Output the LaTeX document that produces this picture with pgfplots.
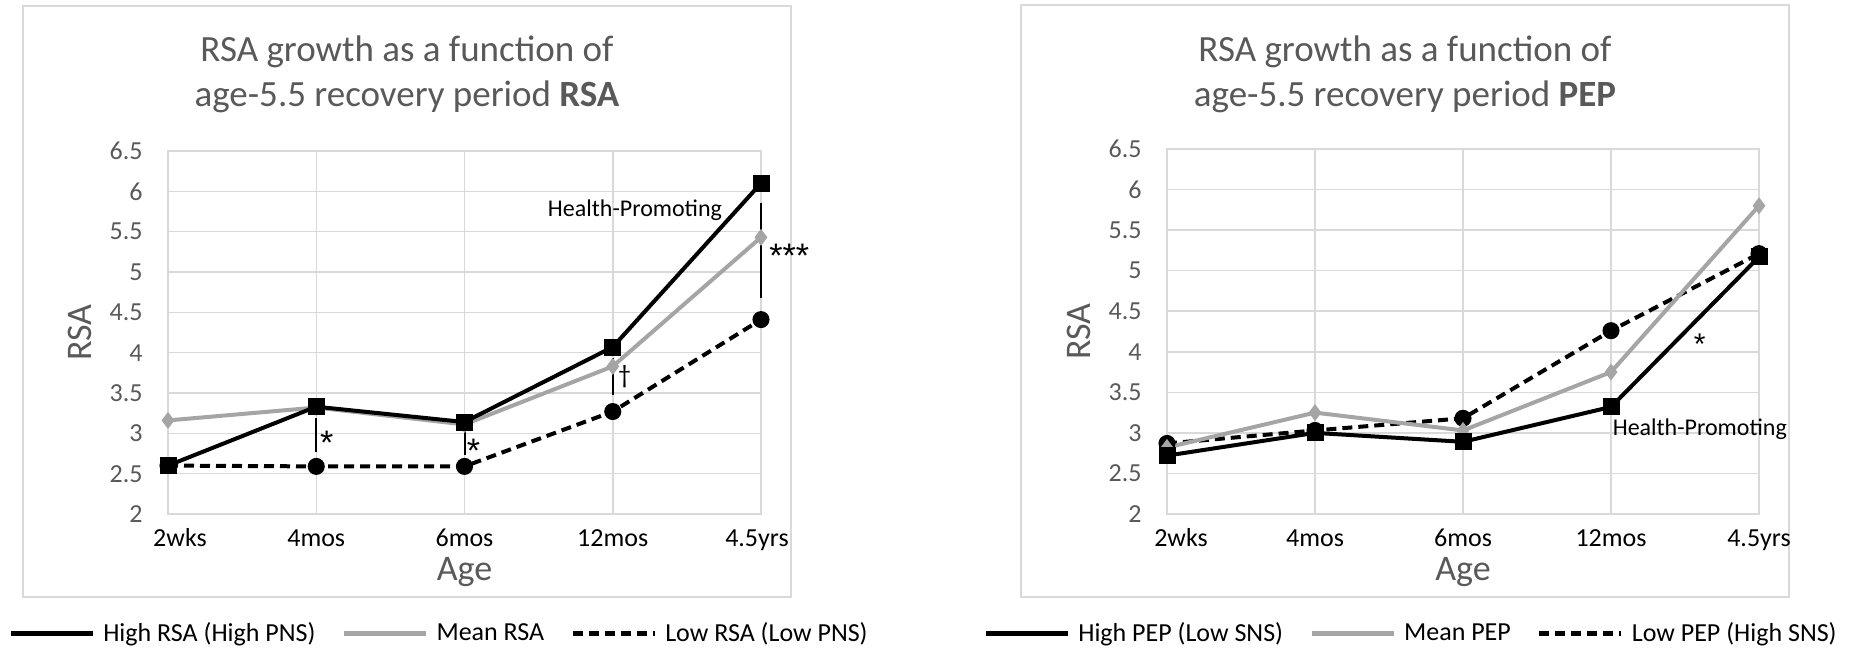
\documentclass[border=0pt]{standalone}
\usepackage{fontspec}
\setmainfont{Carlito}
\newfontfamily\starfont{Liberation Sans}
\usepackage{pgfplots}
\pgfplotsset{compat=1.18}
\definecolor{txtgray}{HTML}{595959}
\definecolor{gridgray}{HTML}{D9D9D9}
\definecolor{linegray}{HTML}{A5A5A5}

\pgfplotsset{
 rsabase/.style={
  scale only axis, width=296.5pt, height=181.5pt,
  xmin=0, xmax=4, ymin=2, ymax=6.5,
  xtick={0,1,2,3,4}, ytick={2,2.5,...,6.5},
  grid=major, major grid style={gridgray, line width=0.75pt},
  axis line style={gridgray, line width=0.75pt},
  major tick length=0pt, tick style={draw=none},
  /pgf/number format/assume math mode=true,
  yticklabel style={font=\fontsize{13pt}{15pt}\selectfont, text=txtgray, anchor=east, inner sep=0pt, xshift=-12.5pt},
  xticklabel style={font=\fontsize{13pt}{15pt}\selectfont, text=black, anchor=base, inner sep=0pt, yshift=-16pt},
  xlabel=Age, ylabel=RSA,
  label style={font=\fontsize{18pt}{20pt}\selectfont, text=txtgray},
  xlabel style={at={(axis description cs:0.5,-0.16)}, anchor=center},
  ylabel style={at={(axis description cs:-0.148,0.5)}, anchor=center},
  clip=false,
  legend columns=3,
  legend style={draw=none, fill=none, inner sep=0pt, font=\fontsize{13pt}{15pt}\selectfont,
    nodes={inner sep=0pt},
    /tikz/every odd column/.append style={column sep=4pt},
    /tikz/every even column/.append style={column sep=13pt}},
  legend image code/.code={\draw[#1, mark=none, line width=2.5pt] (0pt,0pt) -- (41pt,0pt);},
 },
 hiline/.style={black, line width=2pt, mark=square*, mark size=3.25pt, mark options={solid}},
 meanline/.style={linegray, line width=2pt, mark=diamond*, mark size=2.6pt, mark options={solid}},
 lowline/.style={black, line width=2pt, dash pattern=on 5pt off 3pt, mark=*, mark size=3.25pt, mark options={solid}},
 sigline/.style={black, line width=1pt, mark=none, forget plot},
}

\begin{document}
\begin{tikzpicture}
% chart frames
\draw[gridgray, line width=0.75pt] (11.5pt,25.5pt) rectangle (395.5pt,321pt);
\draw[gridgray, line width=0.75pt] (510.5pt,25.5pt) rectangle (894.5pt,321.5pt);

% titles
\node[anchor=base, text=txtgray, font=\fontsize{18.5pt}{22pt}\selectfont] at (203.5pt,293pt) {RSA growth as a function of};
\node[anchor=base, text=txtgray, font=\fontsize{18.5pt}{22pt}\selectfont] at (203.5pt,270.5pt) {age-5.5 recovery period \textbf{RSA}};
\node[anchor=base, text=txtgray, font=\fontsize{18.5pt}{22pt}\selectfont] at (702.5pt,293pt) {RSA growth as a function of};
\node[anchor=base, text=txtgray, font=\fontsize{18.5pt}{22pt}\selectfont] at (702.5pt,270.5pt) {age-5.5 recovery period \textbf{PEP}};

% ---------- left chart ----------
\begin{axis}[rsabase, at={(84pt,67pt)}, anchor=south west,
  xticklabels={\hspace*{12pt}2wks, 4mos, 6mos, 12mos, 4.5yrs\hspace*{4pt}},
  legend style={at={(-0.27,-0.328)}, anchor=west}]
\addlegendimage{hiline}\addlegendentry{High RSA (High PNS)}
\addlegendimage{meanline}\addlegendentry{Mean RSA}
\addlegendimage{lowline}\addlegendentry{Low RSA (Low PNS)}
\addplot[meanline, forget plot] coordinates {(0,3.16) (1,3.32) (2,3.11) (3,3.83) (4,5.43)};
\addplot[lowline, forget plot] coordinates {(0,2.60) (1,2.59) (2,2.59) (3,3.27) (4,4.41)};
\addplot[hiline, forget plot] coordinates {(0,2.60) (1,3.33) (2,3.14) (3,4.07) (4,6.10)};
\addplot[sigline] coordinates {(1,3.19) (1,2.77)};
\addplot[sigline] coordinates {(2,3.04) (2,2.73)};
\addplot[sigline] coordinates {(3,3.93) (3,3.48)};
\addplot[sigline] coordinates {(4,5.86) (4,4.68)};
\node[font=\starfont\fontsize{17pt}{19pt}\selectfont, yshift=-3pt] at (axis cs:1.07,2.96) {*};
\node[font=\starfont\fontsize{17pt}{19pt}\selectfont, yshift=-3pt] at (axis cs:2.06,2.86) {*};
\node[font=\fontsize{13pt}{15pt}\selectfont] at (axis cs:3.08,3.70) {†};
\node[font=\starfont\fontsize{17pt}{19pt}\selectfont, yshift=-3pt] at (axis cs:4.19,5.27) {***};
\node[font=\fontsize{12pt}{14pt}\selectfont] at (axis cs:3.15,5.76) {Health-Promoting};
\end{axis}

% ---------- right chart ----------
\begin{axis}[rsabase, at={(583.5pt,67pt)}, anchor=south west, width=296pt, height=182.5pt,
  xticklabels={\hspace*{14pt}2wks, 4mos, 6mos, 12mos, 4.5yrs},
  legend style={at={(-0.311,-0.328)}, anchor=west}]
\addlegendimage{hiline}\addlegendentry{High PEP (Low SNS)}
\addlegendimage{meanline}\addlegendentry{Mean PEP}
\addlegendimage{lowline}\addlegendentry{Low PEP (High SNS)}
\addplot[lowline, forget plot] coordinates {(0,2.87) (1,3.03) (2,3.18) (3,4.26) (4,5.21)};
\addplot[meanline, forget plot] coordinates {(0,2.82) (1,3.25) (2,3.03) (3,3.75) (4,5.80)};
\addplot[hiline, forget plot] coordinates {(0,2.72) (1,3.00) (2,2.89) (3,3.32) (4,5.17)};
\node[font=\starfont\fontsize{15pt}{17pt}\selectfont, yshift=-3pt] at (axis cs:3.60,4.17) {*};
\node[font=\fontsize{12pt}{14pt}\selectfont] at (axis cs:3.60,3.04) {Health-Promoting};
\end{axis}

\pgfresetboundingbox
\path (0pt,0pt) rectangle (927.5pt,324pt);
\end{tikzpicture}
\end{document}
